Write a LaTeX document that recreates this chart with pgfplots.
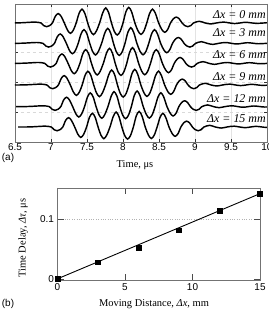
\documentclass[border=0pt]{standalone}
\usepackage{fontspec}
\setmainfont{Liberation Serif}
\newfontfamily\sansf{Liberation Sans}
\usepackage{pgfplots}
\usepackage{pgfplotstable}
\pgfplotsset{compat=1.18}

% waveform (trace at dx = 0 mm), time in microseconds, amplitude in trace spacings
\pgfplotstableread{
t v
6.40 0.00
6.50 0.00
6.60 0.01
6.70 0.03
6.78 0.04
6.86 0.00
6.90 -0.13
6.94 -0.18
6.98 -0.13
7.02 0.00
7.06 0.32
7.10 0.45
7.14 0.32
7.185 0.00
7.23 -0.35
7.27 -0.50
7.31 -0.35
7.35 0.00
7.39 0.46
7.43 0.66
7.47 0.46
7.51 0.00
7.55 -0.39
7.59 -0.56
7.63 -0.39
7.675 0.00
7.72 0.50
7.76 0.72
7.80 0.50
7.84 0.00
7.88 -0.41
7.92 -0.58
7.96 -0.41
8.00 0.00
8.04 0.53
8.08 0.75
8.12 0.53
8.165 0.00
8.21 -0.39
8.25 -0.55
8.29 -0.39
8.33 0.00
8.37 0.46
8.41 0.66
8.45 0.46
8.495 0.00
8.54 -0.32
8.58 -0.45
8.62 -0.32
8.66 0.00
8.70 0.20
8.74 0.28
8.78 0.20
8.82 0.00
8.86 -0.13
8.90 -0.18
8.94 -0.13
8.98 0.00
9.06 0.08
9.14 0.00
9.22 -0.05
9.30 0.00
9.40 0.04
9.55 -0.03
9.70 0.03
9.85 -0.02
10.00 0.01
}\wave

\pgfplotstableread{
dx tau
0 0.000
3 0.028
6 0.052
9 0.082
12 0.115
15 0.144
}\delay

\begin{document}
\begin{tikzpicture}
\useasboundingbox (0bp,0bp) rectangle (269bp,313bp);
\begin{axis}[
  at={(15bp,171bp)}, anchor=south west, scale only axis,
  width=252bp, height=138bp,
  xmin=6.5, xmax=10, ymin=0, ymax=6.63,
  xtick={6.5,7,...,10},
  ytick={1.44,2.88,4.33,5.77}, yticklabels={},
  xmajorgrids, x grid style={gray!22, line width=0.4pt},
  ymajorgrids, y grid style={gray!30, dashed, line width=0.4pt},
  tick align=inside, major tick length=3bp,
  tick style={black!80, line width=0.5pt},
  axis line style={black!55, line width=0.6pt},
  /pgf/number format/assume math mode=true,
  tick label style={font=\sansf\fontsize{10}{12}\selectfont},
  xticklabel style={inner sep=1.5pt},
]
\addplot[black, line width=1.45pt, smooth] table[x expr=\thisrow{t}+0.000, y expr=\thisrow{v}+5.72] {\wave};
\addplot[black, line width=1.45pt, smooth] table[x expr=\thisrow{t}+0.028, y expr=\thisrow{v}+4.74] {\wave};
\addplot[black, line width=1.45pt, smooth] table[x expr=\thisrow{t}+0.052, y expr=\thisrow{v}+3.78] {\wave};
\addplot[black, line width=1.45pt, smooth] table[x expr=\thisrow{t}+0.083, y expr=\thisrow{v}+2.74] {\wave};
\addplot[black, line width=1.45pt, smooth] table[x expr=\thisrow{t}+0.116, y expr=\thisrow{v}+1.70] {\wave};
\addplot[black, line width=1.45pt, smooth] table[x expr=\thisrow{t}+0.144, y expr=\thisrow{v}+0.72] {\wave};
\begin{scope}[every node/.style={anchor=east, inner sep=0pt, font=\itshape\fontsize{12}{14}\selectfont}]
\node at (axis cs:9.985,6.12) {Δx = 0 mm};
\node at (axis cs:9.985,5.27) {Δx = 3 mm};
\node at (axis cs:9.985,4.21) {Δx = 6 mm};
\node at (axis cs:9.985,3.15) {Δx = 9 mm};
\node at (axis cs:9.985,2.10) {Δx = 12 mm};
\node at (axis cs:9.985,1.14) {Δx = 15 mm};
\end{scope}
\end{axis}
\node[font=\sansf\fontsize{10}{12}\selectfont] at (8bp,155bp) {(a)};
\node[font=\fontsize{10.5}{12}\selectfont] at (135bp,148bp) {Time, μs};

\begin{axis}[
  at={(57.5bp,33bp)}, anchor=south west, scale only axis,
  width=202.5bp, height=92bp,
  xmin=0, xmax=15, ymin=-0.002, ymax=0.153,
  xtick={0,5,10,15}, ytick={0,0.1},
  extra y ticks={0.1}, extra y tick labels={},
  extra y tick style={grid=major, major grid style={gray!60, dotted, line width=0.5pt}},
  tick align=inside, major tick length=6bp,
  tick style={black!70, line width=0.5pt},
  axis line style={black!55, line width=0.6pt},
  /pgf/number format/assume math mode=true,
  tick label style={font=\sansf\fontsize{10}{12}\selectfont},
  clip=false,
]
\addplot[black, line width=0.9pt] coordinates {(0,0) (15,0.1435)};
\addplot[only marks, mark=square*, mark size=2.4bp, black] table[x=dx, y=tau] {\delay};
\end{axis}
\node[font=\sansf\fontsize{10}{12}\selectfont] at (8bp,9bp) {(b)};
\node[font=\fontsize{10.5}{12}\selectfont] at (154bp,9bp) {Moving Distance, \textit{Δx}, mm};
\node[rotate=90, font=\fontsize{10.5}{12}\selectfont] at (23bp,75bp) {Time Delay, \textit{Δτ}, μs};
\end{tikzpicture}
\end{document}
